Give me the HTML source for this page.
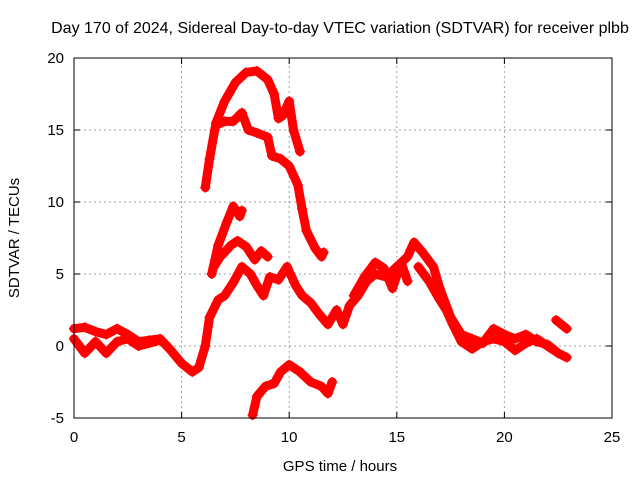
<!DOCTYPE html>
<html><head><meta charset="utf-8"><style>
body{margin:0;background:#fff;}
svg{display:block;font-family:"Liberation Sans",sans-serif;}
</style></head><body>
<svg id="chart" width="640" height="480">
<text x="340" y="33" font-size="16" text-anchor="middle">Day 170 of 2024, Sidereal Day-to-day VTEC variation (SDTVAR) for receiver plbb</text>
<text x="340" y="471" font-size="15" text-anchor="middle">GPS time / hours</text>
<text transform="translate(19,238) rotate(-90)" font-size="15" text-anchor="middle">SDTVAR / TECUs</text>
<g id="grid"></g>
<g id="ticks"></g>
<g id="series"></g>
<rect x="74" y="58" width="538" height="360" fill="none" stroke="#000" stroke-width="1"/>
</svg>
<script>
const xTicks=[0,5,10,15,20,25];
const yTicks=[-5,0,5,10,15,20];
const sA=[[6.1,11],[6.3,13],[6.6,15.5],[7,17],[7.5,18.3],[8,19],[8.5,19.1],[9,18.5],[9.3,17.5],[9.5,15.8],[9.7,16],[10,17],[10.2,15],[10.5,13.5]];
const sB=[[6.7,15.4],[7,15.6],[7.4,15.6],[7.8,16.2],[8.1,15],[8.5,14.8],[9,14.5],[9.2,13.2],[9.6,13],[10,12.5],[10.4,11.2],[10.6,9.5],[10.8,8],[11.2,6.8],[11.5,6.2],[11.6,6.5]];
const sC=[[6.4,5],[6.7,7],[7.1,8.6],[7.4,9.7],[7.7,9.0],[7.8,9.4]];
const sD=[[6.5,5.5],[6.8,6.2],[7.3,7.0],[7.6,7.3],[8,6.9],[8.4,6.0],[8.7,6.6],[9,6.2]];
const sE=[[0,1.2],[0.5,1.3],[1,1.0],[1.5,0.8],[2,1.2],[2.5,0.8],[3,0.3],[3.5,0.4],[4,0.5],[4.5,-0.3],[5,-1.2],[5.5,-1.8],[5.8,-1.5],[6.1,0],[6.3,2],[6.7,3.2],[7,3.5],[7.4,4.4],[7.8,5.5],[8.2,5.0],[8.5,4.2],[8.8,3.5],[9.1,4.8],[9.5,4.6],[9.9,5.5],[10.3,4.2],[10.6,3.5],[11,3.0],[11.4,2.2],[11.8,1.5],[12.2,2.5],[12.5,1.5],[12.8,2.8],[13.2,3.5],[13.6,4.5],[14,5.0],[14.5,4.8],[15,5.5],[15.5,6.2],[15.8,7.2],[16.2,6.5],[16.7,5.5],[17,4.0],[17.5,2.0],[18,0.8],[18.5,0.5],[19,0.2],[19.5,1.2],[20,0.8],[20.5,0.5],[21,0.8],[21.5,0.3],[22,0.1],[22.5,-0.5],[22.9,-0.8]];
const sF=[[0,0.5],[0.5,-0.5],[1,0.3],[1.5,-0.5],[2,0.3],[2.5,0.5],[3,0.0],[3.5,0.2],[4,0.4]];
const sG=[[16,5.5],[16.5,4.5],[17,3.2],[17.3,2.5],[17.6,1.5],[18,0.3],[18.5,-0.2],[19,0.3],[19.5,0.5],[20,0.3],[20.5,-0.3],[21,0.2],[21.5,0.5],[22,0.0],[22.3,-0.3]];
const sG2=[[22.4,1.8],[22.9,1.2]];
const sH=[[13,3.5],[13.5,4.8],[14,5.8],[14.4,5.4],[14.8,4.0],[15.2,5.8],[15.5,4.5]];
const sI=[[8.3,-4.8],[8.5,-3.5],[8.9,-2.8],[9.3,-2.6],[9.6,-1.8],[10,-1.3],[10.5,-1.8],[11,-2.5],[11.5,-2.8],[11.8,-3.3],[12,-2.5]];
const allSeries=[sA,sB,sC,sD,sE,sF,sG,sG2,sH,sI];
const X0=74,X1=612,Y0=418,Y1=58;
const xs=t=>X0+(t-0)/(25-0)*(X1-X0);
const ys=v=>Y0-(v+5)/(25)*(Y0-Y1);
const NS='http://www.w3.org/2000/svg';
const grid=document.getElementById('grid'),ticks=document.getElementById('ticks'),ser=document.getElementById('series');
function mk(tag,attrs,parent){const e=document.createElementNS(NS,tag);for(const k in attrs)e.setAttribute(k,attrs[k]);parent.appendChild(e);return e;}
xTicks.forEach(t=>{const x=xs(t);
 if(t>0&&t<25){const g=mk('line',{x1:x,x2:x,y1:Y0,y2:Y1,stroke:'#a0a0a0','stroke-dasharray':'2,3'},grid);}
 const l=mk('line',{x1:x,x2:x,y1:Y0,y2:Y0-6,stroke:'#000'},ticks);
 const l2=mk('line',{x1:x,x2:x,y1:Y1,y2:Y1+6,stroke:'#000'},ticks);
 const tx=mk('text',{x:x,y:Y0+24,'font-size':15,'text-anchor':'middle'},ticks);tx.textContent=t;});
yTicks.forEach(v=>{const y=ys(v);
 if(v>-5&&v<20){const g=mk('line',{x1:X0,x2:X1,y1:y,y2:y,stroke:'#a0a0a0','stroke-dasharray':'2,3'},grid);}
 const l=mk('line',{x1:X0,x2:X0+6,y1:y,y2:y,stroke:'#000'},ticks);
 const l2=mk('line',{x1:X1,x2:X1-6,y1:y,y2:y,stroke:'#000'},ticks);
 const tx=mk('text',{x:X0-10,y:y+5,'font-size':15,'text-anchor':'end'},ticks);tx.textContent=v;});
allSeries.forEach((s,i)=>{
 const p=mk('polyline',{points:s.map(d=>xs(d[0])+','+ys(d[1])).join(' '),fill:'none',stroke:'#ff0000','stroke-width':9,'stroke-linejoin':'round','stroke-linecap':'round'},ser);
 
 
 s.forEach(d=>{const x=xs(d[0]),y=ys(d[1]);
  const m=mk('path',{d:`M${x-5},${y}H${x+5}M${x},${y-5}V${y+5}`,stroke:'#ff0000','stroke-width':1.5},ser);
  
  });
});
</script>
</body></html>
